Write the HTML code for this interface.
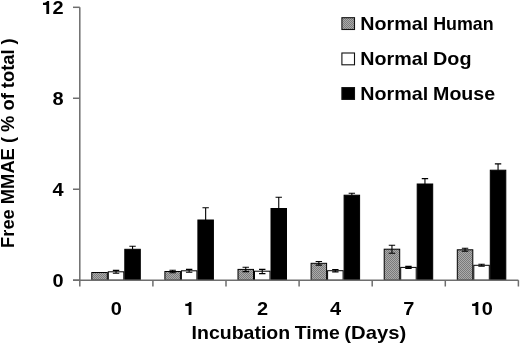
<!DOCTYPE html>
<html><head><meta charset="utf-8"><style>
html,body{margin:0;padding:0;background:#fff;}
svg{display:block;filter:grayscale(1);}
text{font-family:"Liberation Sans",sans-serif;font-weight:bold;fill:#000;}
</style></head><body>
<svg width="520" height="344" viewBox="0 0 520 344">
<defs>
<pattern id="hatch" width="2" height="2" patternUnits="userSpaceOnUse">
<rect width="2" height="2" fill="#ababab"/>
<rect width="1" height="1" fill="#7a7a7a"/>
<rect x="1" y="1" width="1" height="1" fill="#7a7a7a"/>
</pattern>
</defs>
<rect width="520" height="344" fill="#fff"/>

<rect x="91.80" y="272.50" width="15.50" height="7.70" fill="url(#hatch)" stroke="#000" stroke-width="1"/>
<rect x="108.30" y="271.80" width="15.50" height="8.40" fill="#fff" stroke="#000" stroke-width="1"/>
<rect x="124.80" y="249.30" width="15.50" height="30.90" fill="#000" stroke="#000" stroke-width="1"/>
<rect x="164.90" y="271.50" width="15.50" height="8.70" fill="url(#hatch)" stroke="#000" stroke-width="1"/>
<rect x="181.40" y="270.80" width="15.50" height="9.40" fill="#fff" stroke="#000" stroke-width="1"/>
<rect x="197.90" y="220.00" width="15.50" height="60.20" fill="#000" stroke="#000" stroke-width="1"/>
<rect x="238.00" y="269.40" width="15.50" height="10.80" fill="url(#hatch)" stroke="#000" stroke-width="1"/>
<rect x="254.50" y="271.20" width="15.50" height="9.00" fill="#fff" stroke="#000" stroke-width="1"/>
<rect x="271.00" y="208.50" width="15.50" height="71.70" fill="#000" stroke="#000" stroke-width="1"/>
<rect x="311.10" y="263.30" width="15.50" height="16.90" fill="url(#hatch)" stroke="#000" stroke-width="1"/>
<rect x="327.60" y="270.70" width="15.50" height="9.50" fill="#fff" stroke="#000" stroke-width="1"/>
<rect x="344.10" y="195.20" width="15.50" height="85.00" fill="#000" stroke="#000" stroke-width="1"/>
<rect x="384.20" y="249.20" width="15.50" height="31.00" fill="url(#hatch)" stroke="#000" stroke-width="1"/>
<rect x="400.70" y="267.40" width="15.50" height="12.80" fill="#fff" stroke="#000" stroke-width="1"/>
<rect x="417.20" y="184.00" width="15.50" height="96.20" fill="#000" stroke="#000" stroke-width="1"/>
<rect x="457.30" y="249.80" width="15.50" height="30.40" fill="url(#hatch)" stroke="#000" stroke-width="1"/>
<rect x="473.80" y="265.30" width="15.50" height="14.90" fill="#fff" stroke="#000" stroke-width="1"/>
<rect x="490.30" y="170.20" width="15.50" height="110.00" fill="#000" stroke="#000" stroke-width="1"/>
<path d="M116.05 271.80V270.40M112.85 270.40H119.25" stroke="#000" stroke-width="1.1" fill="none"/>
<path d="M116.05 271.80V273.20M112.85 273.20H119.25" stroke="#000" stroke-width="1.1" fill="none"/>
<path d="M132.55 249.30V246.20M129.35 246.20H135.75" stroke="#000" stroke-width="1.1" fill="none"/>
<path d="M172.65 271.50V270.30M169.45 270.30H175.85" stroke="#000" stroke-width="1.1" fill="none"/>
<path d="M172.65 271.50V272.70M169.45 272.70H175.85" stroke="#000" stroke-width="1.1" fill="none"/>
<path d="M189.15 270.80V269.40M185.95 269.40H192.35" stroke="#000" stroke-width="1.1" fill="none"/>
<path d="M189.15 270.80V272.20M185.95 272.20H192.35" stroke="#000" stroke-width="1.1" fill="none"/>
<path d="M205.65 220.00V207.70M202.45 207.70H208.85" stroke="#000" stroke-width="1.1" fill="none"/>
<path d="M245.75 269.40V267.20M242.55 267.20H248.95" stroke="#000" stroke-width="1.1" fill="none"/>
<path d="M245.75 269.40V271.60M242.55 271.60H248.95" stroke="#000" stroke-width="1.1" fill="none"/>
<path d="M262.25 271.20V269.40M259.05 269.40H265.45" stroke="#000" stroke-width="1.1" fill="none"/>
<path d="M262.25 271.20V273.60M259.05 273.60H265.45" stroke="#000" stroke-width="1.1" fill="none"/>
<path d="M278.75 208.50V197.30M275.55 197.30H281.95" stroke="#000" stroke-width="1.1" fill="none"/>
<path d="M318.85 263.30V261.50M315.65 261.50H322.05" stroke="#000" stroke-width="1.1" fill="none"/>
<path d="M318.85 263.30V265.10M315.65 265.10H322.05" stroke="#000" stroke-width="1.1" fill="none"/>
<path d="M335.35 270.70V269.50M332.15 269.50H338.55" stroke="#000" stroke-width="1.1" fill="none"/>
<path d="M335.35 270.70V271.90M332.15 271.90H338.55" stroke="#000" stroke-width="1.1" fill="none"/>
<path d="M351.85 195.20V193.30M348.65 193.30H355.05" stroke="#000" stroke-width="1.1" fill="none"/>
<path d="M391.95 249.20V245.20M388.75 245.20H395.15" stroke="#000" stroke-width="1.1" fill="none"/>
<path d="M391.95 249.20V253.20M388.75 253.20H395.15" stroke="#000" stroke-width="1.1" fill="none"/>
<path d="M408.45 267.40V266.40M405.25 266.40H411.65" stroke="#000" stroke-width="1.1" fill="none"/>
<path d="M408.45 267.40V268.40M405.25 268.40H411.65" stroke="#000" stroke-width="1.1" fill="none"/>
<path d="M424.95 184.00V178.60M421.75 178.60H428.15" stroke="#000" stroke-width="1.1" fill="none"/>
<path d="M465.05 249.80V248.30M461.85 248.30H468.25" stroke="#000" stroke-width="1.1" fill="none"/>
<path d="M465.05 249.80V251.30M461.85 251.30H468.25" stroke="#000" stroke-width="1.1" fill="none"/>
<path d="M481.55 265.30V264.30M478.35 264.30H484.75" stroke="#000" stroke-width="1.1" fill="none"/>
<path d="M481.55 265.30V266.30M478.35 266.30H484.75" stroke="#000" stroke-width="1.1" fill="none"/>
<path d="M498.05 170.20V163.90M494.85 163.90H501.25" stroke="#000" stroke-width="1.1" fill="none"/>
<path d="M79.8 7.3V286.5M73 280.2H518.4" stroke="#6e6e6e" stroke-width="1.5" fill="none"/>
<path d="M73 280.20H79.8" stroke="#6e6e6e" stroke-width="1.5"/>
<path d="M73 189.23H79.8" stroke="#6e6e6e" stroke-width="1.5"/>
<path d="M73 98.27H79.8" stroke="#6e6e6e" stroke-width="1.5"/>
<path d="M73 7.30H79.8" stroke="#6e6e6e" stroke-width="1.5"/>
<path d="M152.90 280.2V286.5" stroke="#6e6e6e" stroke-width="1.5"/>
<path d="M226.00 280.2V286.5" stroke="#6e6e6e" stroke-width="1.5"/>
<path d="M299.10 280.2V286.5" stroke="#6e6e6e" stroke-width="1.5"/>
<path d="M372.20 280.2V286.5" stroke="#6e6e6e" stroke-width="1.5"/>
<path d="M445.30 280.2V286.5" stroke="#6e6e6e" stroke-width="1.5"/>
<path d="M518.40 280.2V286.5" stroke="#6e6e6e" stroke-width="1.5"/>
<text transform="translate(63.60,286.90) scale(1.05,1)" font-size="19" text-anchor="end">0</text>
<text transform="translate(63.60,195.93) scale(1.05,1)" font-size="19" text-anchor="end">4</text>
<text transform="translate(63.60,104.97) scale(1.05,1)" font-size="19" text-anchor="end">8</text>
<path d="M49.14 14.00L49.14 0.89L47.03 0.89C46.63 1.84 45.59 2.60 42.98 2.79L42.98 5.11L46.35 5.11L46.35 14.00Z" fill="#000"/>
<text transform="translate(63.60,14.00) scale(1.05,1)" font-size="19" text-anchor="end">2</text>
<text transform="translate(116.35,315.00) scale(1.05,1)" font-size="19" text-anchor="middle">0</text>
<path d="M191.44 315.00L191.44 301.89L189.33 301.89C188.93 302.84 187.89 303.60 185.28 303.79L185.28 306.11L188.65 306.11L188.65 315.00Z" fill="#000"/>
<text transform="translate(262.55,315.00) scale(1.05,1)" font-size="19" text-anchor="middle">2</text>
<text transform="translate(335.65,315.00) scale(1.05,1)" font-size="19" text-anchor="middle">4</text>
<text transform="translate(408.75,315.00) scale(1.05,1)" font-size="19" text-anchor="middle">7</text>
<path d="M478.30 315.00L478.30 301.89L476.18 301.89C475.79 302.84 474.75 303.60 472.13 303.79L472.13 306.11L475.51 306.11L475.51 315.00Z" fill="#000"/>
<text transform="translate(481.85,315.00) scale(1.05,1)" font-size="19">0</text>
<text x="191.60" y="338.80" font-size="19" textLength="98.59" lengthAdjust="spacingAndGlyphs" xml:space="preserve">Incubation</text>
<text x="294.78" y="338.80" font-size="19" textLength="45.05" lengthAdjust="spacingAndGlyphs" xml:space="preserve">Time</text>
<text x="344.39" y="338.80" font-size="19" textLength="61.85" lengthAdjust="spacingAndGlyphs" xml:space="preserve">(Days)</text>
<text transform="translate(14.30,247.92) rotate(-90)" font-size="18" textLength="209.64" lengthAdjust="spacingAndGlyphs" xml:space="preserve">Free MMAE ( % of total )</text>
<rect x="341.9" y="17.70" width="12.6" height="11.8" fill="url(#hatch)" stroke="#111" stroke-width="1.1"/>
<text x="360.39" y="29.80" font-size="19" textLength="67.84" lengthAdjust="spacingAndGlyphs" xml:space="preserve">Normal</text>
<text x="433.21" y="29.80" font-size="19" textLength="60.49" lengthAdjust="spacingAndGlyphs" xml:space="preserve">Human</text>
<rect x="341.9" y="53.00" width="12.6" height="11.8" fill="#fff" stroke="#111" stroke-width="1.1"/>
<text x="360.39" y="65.10" font-size="19" textLength="67.84" lengthAdjust="spacingAndGlyphs" xml:space="preserve">Normal</text>
<text x="433.08" y="65.10" font-size="19" textLength="38.43" lengthAdjust="spacingAndGlyphs" xml:space="preserve">Dog</text>
<rect x="341.9" y="87.60" width="12.6" height="11.8" fill="#000" stroke="#111" stroke-width="1.1"/>
<text x="360.39" y="99.70" font-size="19" textLength="67.84" lengthAdjust="spacingAndGlyphs" xml:space="preserve">Normal</text>
<text x="433.09" y="99.70" font-size="19" textLength="62.07" lengthAdjust="spacingAndGlyphs" xml:space="preserve">Mouse</text>
</svg></body></html>
